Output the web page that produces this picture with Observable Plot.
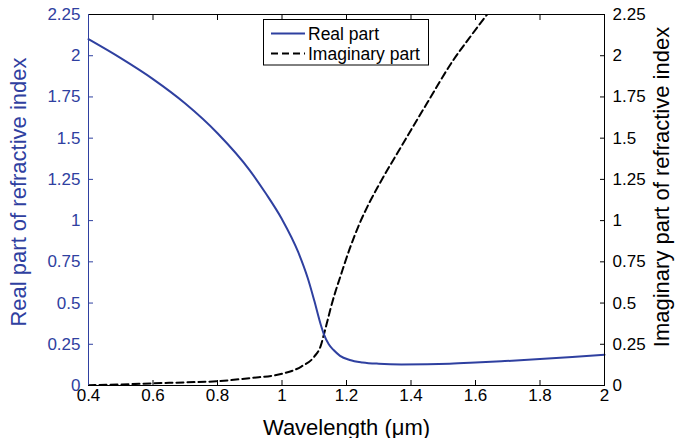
<!DOCTYPE html>
<html>
<head>
<meta charset="utf-8">
<script src="https://cdn.jsdelivr.net/npm/d3@7"></script>
<script src="https://cdn.jsdelivr.net/npm/@observablehq/plot@0.6"></script>
<style>
  body { margin: 0; background: #fff; }
  #chart { position: relative; width: 682px; height: 438px; }
</style>
</head>
<body>
<div id="chart"></div>
<script>
// ---- data ----
const wavelengthReal = [0.4, 0.5, 0.6, 0.7, 0.8, 0.9, 0.95, 1.0, 1.05, 1.08, 1.1, 1.12, 1.13, 1.145, 1.16, 1.18, 1.21, 1.25, 1.3, 1.37, 1.45, 1.52, 1.6, 1.68, 1.8, 1.9, 2.0];
const realPart       = [2.10, 1.985, 1.858, 1.71, 1.53, 1.305, 1.164, 1.008, 0.81, 0.65, 0.515, 0.37, 0.31, 0.25, 0.215, 0.18, 0.155, 0.14, 0.132, 0.128, 0.129, 0.132, 0.139, 0.147, 0.160, 0.173, 0.187];

const wavelengthImag = [0.4, 0.5, 0.6, 0.7, 0.8, 0.9, 1.0, 1.06, 1.1, 1.12, 1.13, 1.14, 1.151, 1.165, 1.18, 1.21, 1.24, 1.27, 1.30, 1.37, 1.45, 1.53, 1.58, 1.636];
const imagPart       = [0.002, 0.006, 0.013, 0.019, 0.026, 0.045, 0.071, 0.115, 0.175, 0.24, 0.31, 0.385, 0.47, 0.565, 0.655, 0.83, 0.98, 1.105, 1.215, 1.45, 1.713, 1.97, 2.105, 2.25];

const xTicks = [0.4, 0.6, 0.8, 1, 1.2, 1.4, 1.6, 1.8, 2];
const yTicks = [0, 0.25, 0.5, 0.75, 1, 1.25, 1.5, 1.75, 2, 2.25];
const seriesNames = ["Real part", "Imaginary part"];
const xLabel = "Wavelength (\u03bcm)";
const yLabelLeft = "Real part of refractive index";
const yLabelRight = "Imaginary part of refractive index";

// ---- build ----
const blue = "#2f40a0";
const font = "'Liberation Sans', Arial, Helvetica, sans-serif";
const realData = wavelengthReal.map((w, i) => ({w, v: realPart[i]}));
const imagData = wavelengthImag.map((w, i) => ({w, v: imagPart[i]}));

const plot = Plot.plot({
  width: 682,
  height: 438,
  marginLeft: 88,
  marginRight: 78,
  marginTop: 14,
  marginBottom: 53,
  style: {fontFamily: font, fontSize: "17px", background: "white", color: "black", overflow: "visible"},
  x: {domain: [0.4, 2]},
  y: {domain: [0, 2.25]},
  marks: [
    Plot.line(imagData, {x: "w", y: "v", stroke: "black", strokeWidth: 2, strokeDasharray: "7,4", curve: "monotone-x", clip: true}),
    Plot.line(realData, {x: "w", y: "v", stroke: blue, strokeWidth: 2, curve: "monotone-x"}),
    Plot.axisX({anchor: "bottom", ticks: xTicks, tickFormat: d => String(d), tickSize: -5, tickPadding: 8, label: null, color: "black"}),
    Plot.axisX({anchor: "top", ticks: xTicks, tickFormat: () => "", tickSize: -5, label: null, color: "black"}),
    Plot.axisY({anchor: "left", ticks: yTicks, tickFormat: d => String(d), tickSize: -5, tickPadding: 13, label: null, color: blue}),
    Plot.axisY({anchor: "right", ticks: yTicks, tickFormat: d => String(d), tickSize: -5, tickPadding: 13, label: null, color: "black"}),
    Plot.frame({stroke: "black"}),
    Plot.ruleX([0.4], {stroke: blue}),
    Plot.text([xLabel], {text: d => d, frameAnchor: "bottom", textAnchor: "middle", dy: 49, lineAnchor: "bottom", fontSize: 22, fill: "black"}),
    Plot.text([yLabelLeft], {text: d => d, frameAnchor: "left", textAnchor: "middle", dx: -63, dy: -8, rotate: -90, lineAnchor: "bottom", fontSize: 22, fill: blue}),
    Plot.text([yLabelRight], {text: d => d, frameAnchor: "right", textAnchor: "middle", dx: 64, dy: -13, rotate: -90, lineAnchor: "bottom", fontSize: 22, fill: "black"})
  ]
});

// legend box inside the plot area
const svg = d3.select(plot);
const lg = svg.append("g").attr("font-family", font).attr("font-size", 17.5).attr("text-anchor", "start");
lg.append("rect").attr("x", 263.5).attr("y", 19.5).attr("width", 165).attr("height", 45.5)
  .attr("fill", "white").attr("stroke", "black").attr("stroke-width", 1);
const legendStyles = [{stroke: blue, dash: null}, {stroke: "black", dash: "7,4"}];
seriesNames.forEach((name, i) => {
  const cy = 33.5 + i * 20;
  lg.append("line").attr("x1", 271).attr("x2", 305).attr("y1", cy).attr("y2", cy)
    .attr("stroke", legendStyles[i].stroke).attr("stroke-width", 2)
    .attr("stroke-dasharray", legendStyles[i].dash);
  lg.append("text").attr("x", 308).attr("y", cy).attr("dy", "0.35em")
    .attr("text-anchor", "start").attr("fill", "black").text(name);
});

document.getElementById("chart").appendChild(plot);
</script>
</body>
</html>
